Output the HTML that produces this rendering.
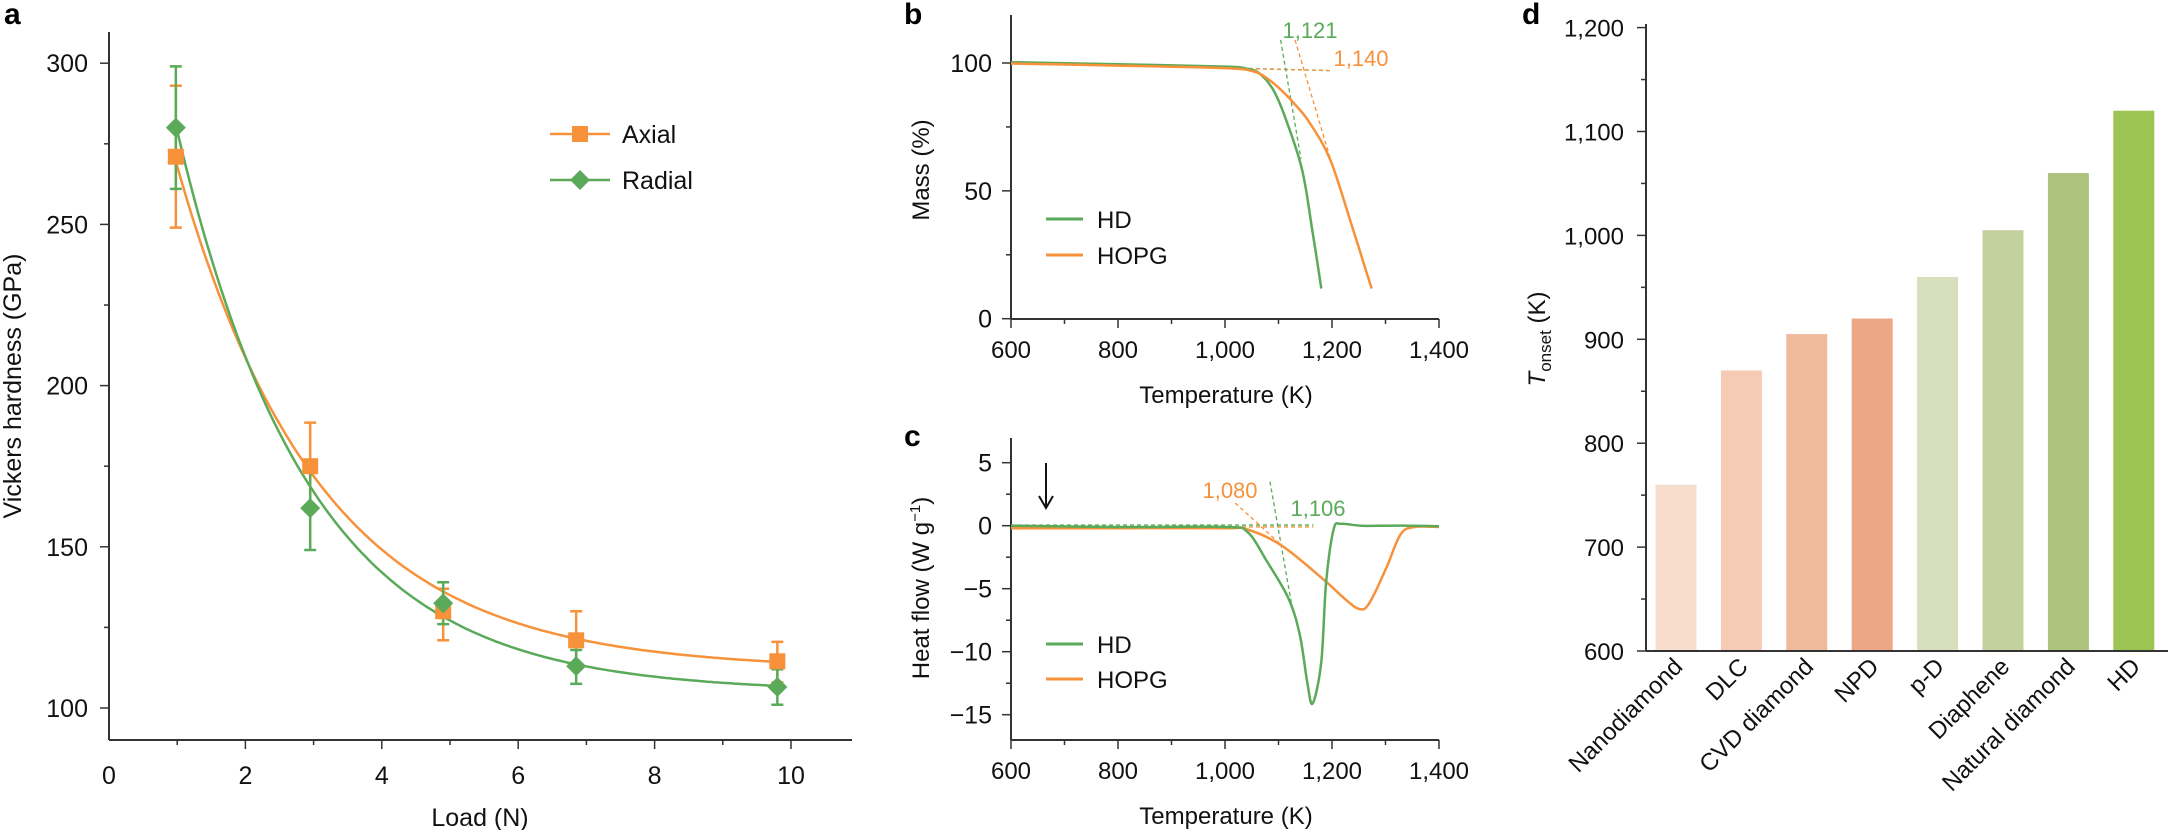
<!DOCTYPE html>
<html><head><meta charset="utf-8">
<style>
html,body{margin:0;padding:0;background:#fff;}
svg{display:block;font-family:"Liberation Sans",Arial,sans-serif;}
</style></head>
<body>
<svg id="fig" width="2168" height="830" viewBox="0 0 2168 830" xmlns="http://www.w3.org/2000/svg"></svg>
<script>
// ---------- Panel a data ----------
const loadX = [0.98, 2.95, 4.9, 6.85, 9.8];
const axialH = [271, 175, 130, 121, 114.5];
const axialErrHi = [293, 188.5, 137, 130, 120.5];
const axialErrLo = [249, 161, 121, 113, 108];
const radialH = [280, 162, 132.5, 113, 106.5];
const radialErrHi = [299, 175, 139, 118, 112];
const radialErrLo = [261, 149, 126, 107.5, 101];
const axialFit = [112, 156, 2.09];   // asymptote, amplitude at x=1, decay length
const radialFit = [105, 174, 1.94];
const aXTicks = [0, 2, 4, 6, 8, 10];
const aYTicks = [100, 150, 200, 250, 300];

// ---------- Panel b data ----------
const bHDT = [600, 800, 1000, 1042, 1065, 1090, 1112, 1144, 1164, 1180];
const bHDM = [100.3, 99.5, 98.6, 97.7, 95.8, 89.5, 79, 58.4, 33.5, 11.8];
const bHOPGT = [600, 800, 1000, 1053, 1080, 1105, 1130, 1157, 1196, 1235, 1274];
const bHOPGM = [99.8, 99.0, 98.0, 96.7, 93.8, 89.4, 84, 77, 62.5, 37.8, 11.8];
const bXTicks = [600, 800, 1000, 1200, 1400];
const bXLabels = ["600", "800", "1,000", "1,200", "1,400"];
const bYTicks = [0, 50, 100];

// ---------- Panel c data ----------
const cHDT = [600, 800, 1000, 1042, 1078, 1119, 1140, 1154, 1164, 1180, 1189, 1203, 1217, 1254, 1306, 1345, 1400];
const cHDQ = [0, -0.1, -0.1, -0.5, -2.8, -5.8, -8.7, -12.5, -14.1, -10.8, -4.5, -0.3, 0.15, 0, 0, 0, -0.05];
const cHOPGT = [600, 800, 1000, 1042, 1107, 1185, 1224, 1250, 1269, 1302, 1328, 1354, 1400];
const cHOPGQ = [-0.2, -0.2, -0.2, -0.3, -1.6, -4.3, -5.8, -6.6, -6.2, -3.3, -0.7, -0.1, -0.1];
const cYTicks = [-15, -10, -5, 0, 5];
const cYLabels = ["\u221215", "\u221210", "\u22125", "0", "5"];

// ---------- Panel d data ----------
const materials = ["Nanodiamond", "DLC", "CVD diamond", "NPD", "p-D", "Diaphene", "Natural diamond", "HD"];
const tOnset = [760, 870, 905, 920, 960, 1005, 1060, 1120];
const barColors = ["#f7ddcb", "#f5cbb5", "#efb99b", "#eca886", "#d6e0be", "#c3d19f", "#adc27d", "#9cc452"];
const dYTicks = [600, 700, 800, 900, 1000, 1100, 1200];
const dYLabels = ["600", "700", "800", "900", "1,000", "1,100", "1,200"];

const OR = "#f7923a", GR = "#5aaa5a", AX = "#333";
const svg = document.getElementById('fig');
const NS = "http://www.w3.org/2000/svg";
function el(tag, attrs, parent) {
  const e = document.createElementNS(NS, tag);
  for (const k in attrs) e.setAttribute(k, attrs[k]);
  (parent || svg).appendChild(e);
  return e;
}
function txt(s, x, y, size, anchor, fill, parent) {
  const t = el('text', {x: x, y: y, 'font-size': size, 'text-anchor': anchor || 'middle', fill: fill || '#111'}, parent);
  t.textContent = s;
  return t;
}
function pathFrom(xs, ys, sx, sy) {
  const P = xs.map((v, i) => [sx(v), sy(ys[i])]);
  let d = 'M' + P[0][0].toFixed(1) + ',' + P[0][1].toFixed(1);
  for (let i = 0; i < P.length - 1; i++) {
    const p0 = P[i - 1] || P[i], p1 = P[i], p2 = P[i + 1], p3 = P[i + 2] || p2;
    const c1 = [p1[0] + (p2[0] - p0[0]) / 6, p1[1] + (p2[1] - p0[1]) / 6];
    const c2 = [p2[0] - (p3[0] - p1[0]) / 6, p2[1] - (p3[1] - p1[1]) / 6];
    d += 'C' + c1[0].toFixed(1) + ',' + c1[1].toFixed(1) + ' ' + c2[0].toFixed(1) + ',' + c2[1].toFixed(1) + ' ' + p2[0].toFixed(1) + ',' + p2[1].toFixed(1);
  }
  return d;
}

// ================= Panel a =================
const ga = el('g', {});


const ax = v => 109 + v * 68.2;
const ay = v => 708 - (v - 100) * 3.224;
let t;
t = txt('a', 4, 24, 30, 'start', '#000', ga); t.setAttribute('font-weight', 'bold');
 
let ln;
ln = el('line', {x1: 109, y1: 32, x2: 109, y2: 740, stroke: AX, 'stroke-width': 2}, ga);
 
ln = el('line', {x1: 109, y1: 740, x2: 852, y2: 740, stroke: AX, 'stroke-width': 2}, ga);
 
for (let v = 1; v <= 10; v++) {
  el('line', {x1: ax(v), y1: 740, x2: ax(v), y2: v % 2 ? 745 : 749, stroke: AX, 'stroke-width': 1.5}, ga);
}
aXTicks.forEach(v => {
  const l = txt(String(v), ax(v), 784, 25, 'middle', '#111', ga);
   
});
for (let v = 100; v <= 300; v += 25) {
  el('line', {x1: v % 50 ? 104 : 100, y1: ay(v), x2: 109, y2: ay(v), stroke: AX, 'stroke-width': 1.5}, ga);
}
aYTicks.forEach(v => {
  const l = txt(String(v), 88, ay(v) + 9, 25, 'end', '#111', ga);
   
});
t = txt('Load (N)', 480, 826, 25, 'middle', '#111', ga);
 
t = txt('Vickers hardness (GPa)', 0, 0, 25, 'middle', '#111', ga);
t.setAttribute('transform', 'translate(21,386) rotate(-90)');
 

function fitPath(p) {
  let d = '';
  for (let x = 0.97; x <= 9.81; x += 0.05) {
    const y = p[0] + p[1] * Math.exp(-(x - 1) / p[2]);
    d += (d ? 'L' : 'M') + ax(x).toFixed(1) + ',' + ay(y).toFixed(1);
  }
  return d;
}
let p;
p = el('path', {d: fitPath(axialFit), fill: 'none', stroke: OR, 'stroke-width': 2.5}, ga);
 
p = el('path', {d: fitPath(radialFit), fill: 'none', stroke: GR, 'stroke-width': 2.5}, ga);
 

loadX.forEach((x, i) => {
  const cx = ax(x);
  const eb = el('path', {d: `M${cx},${ay(axialErrLo[i])}V${ay(axialErrHi[i])}M${cx-6},${ay(axialErrLo[i])}h12M${cx-6},${ay(axialErrHi[i])}h12`, stroke: OR, 'stroke-width': 2.5, fill: 'none'}, ga);
   
  const eb2 = el('path', {d: `M${cx},${ay(radialErrLo[i])}V${ay(radialErrHi[i])}M${cx-6},${ay(radialErrLo[i])}h12M${cx-6},${ay(radialErrHi[i])}h12`, stroke: GR, 'stroke-width': 2.5, fill: 'none'}, ga);
   
});
loadX.forEach((x, i) => {
  const cx = ax(x), cy = ay(axialH[i]);
  const m = el('rect', {x: cx - 8, y: cy - 8, width: 16, height: 16, fill: OR}, ga);
   
  const ry = ay(radialH[i]);
  const d = el('path', {d: `M${cx},${ry-10}L${cx+10},${ry}L${cx},${ry+10}L${cx-10},${ry}Z`, fill: GR}, ga);
   
});
// legend a
const lga = el('g', {}, ga);
 
el('line', {x1: 550, y1: 134, x2: 610, y2: 134, stroke: OR, 'stroke-width': 2.5}, lga);
el('rect', {x: 572, y: 126, width: 16, height: 16, fill: OR}, lga);
t = txt('Axial', 622, 143, 25, 'start', '#111', lga);
 
el('line', {x1: 550, y1: 180, x2: 610, y2: 180, stroke: GR, 'stroke-width': 2.5}, lga);
el('path', {d: 'M580,170L590,180L580,190L570,180Z', fill: GR}, lga);
t = txt('Radial', 622, 189, 25, 'start', '#111', lga);
 

// ================= Temperature axis helpers =================
const tx = v => 1011 + (v - 600) * 0.535;
function tempAxis(g, yAxis, yTop, labelY, titleY, prefix) {
  let l;
  l = el('line', {x1: 1011, y1: yTop, x2: 1011, y2: yAxis, stroke: AX, 'stroke-width': 2}, g);
   
  l = el('line', {x1: 1011, y1: yAxis, x2: 1439, y2: yAxis, stroke: AX, 'stroke-width': 2}, g);
   
  for (let v = 600; v <= 1400; v += 100) {
    el('line', {x1: tx(v), y1: yAxis, x2: tx(v), y2: yAxis + (v % 200 ? 5 : 9), stroke: AX, 'stroke-width': 1.5}, g);
  }
  bXTicks.forEach((v, i) => {
    const tl = txt(bXLabels[i], tx(v), labelY, 24, 'middle', '#111', g);
     
  });
  const tt = txt('Temperature (K)', 1226, titleY, 24, 'middle', '#111', g);
   
}

// ================= Panel b =================
const gb = el('g', {});


const by = v => 318.7 - v * 2.557;
t = txt('b', 904, 24, 30, 'start', '#000', gb); t.setAttribute('font-weight', 'bold');
 
tempAxis(gb, 319, 15, 358, 403, 'b');
for (let v = 0; v <= 100; v += 25) {
  el('line', {x1: v % 50 ? 1006 : 1002, y1: by(v), x2: 1011, y2: by(v), stroke: AX, 'stroke-width': 1.5}, gb);
}
bYTicks.forEach(v => {
  const l = txt(String(v), 992, by(v) + 9, 25, 'end', '#111', gb);
   
});
t = txt('Mass (%)', 0, 0, 24, 'middle', '#111', gb);
t.setAttribute('transform', 'translate(929,170) rotate(-90)');
 
// dashed tangents
el('line', {x1: tx(600), y1: by(100.5), x2: tx(1200), y2: by(97), stroke: GR, 'stroke-width': 1.3, 'stroke-dasharray': '4,3'}, gb);
el('line', {x1: tx(600), y1: by(100), x2: tx(1200), y2: by(97), stroke: OR, 'stroke-width': 1.3, 'stroke-dasharray': '4,3'}, gb);
el('line', {x1: tx(1104), y1: by(109), x2: tx(1142), y2: by(62.5), stroke: GR, 'stroke-width': 1.3, 'stroke-dasharray': '4,3'}, gb);
el('line', {x1: tx(1131), y1: by(109), x2: tx(1197), y2: by(62.5), stroke: OR, 'stroke-width': 1.3, 'stroke-dasharray': '4,3'}, gb);
p = el('path', {d: pathFrom(bHDT, bHDM, tx, by), fill: 'none', stroke: GR, 'stroke-width': 2.5, 'stroke-linejoin': 'round'}, gb);
 
p = el('path', {d: pathFrom(bHOPGT, bHOPGM, tx, by), fill: 'none', stroke: OR, 'stroke-width': 2.5, 'stroke-linejoin': 'round'}, gb);
 
t = txt('1,121', 1310, 38, 22, 'middle', GR, gb);
 
t = txt('1,140', 1361, 66, 22, 'middle', OR, gb);
 
el('line', {x1: 1046, y1: 219, x2: 1083, y2: 219, stroke: GR, 'stroke-width': 3}, gb);
t = txt('HD', 1097, 228, 24, 'start', '#111', gb);
 
el('line', {x1: 1046, y1: 255, x2: 1083, y2: 255, stroke: OR, 'stroke-width': 3}, gb);
t = txt('HOPG', 1097, 264, 24, 'start', '#111', gb);
 

// ================= Panel c =================
const gc = el('g', {});


const cy = v => 525.7 - v * 12.6;
t = txt('c', 904, 446, 30, 'start', '#000', gc); t.setAttribute('font-weight', 'bold');
 
tempAxis(gc, 740, 438, 779, 824, 'c');
for (let v = -15; v <= 5; v += 2.5) {
  el('line', {x1: v % 5 ? 1006 : 1002, y1: cy(v), x2: 1011, y2: cy(v), stroke: AX, 'stroke-width': 1.5}, gc);
}
cYTicks.forEach((v, i) => {
  const l = txt(cYLabels[i], 992, cy(v) + 9, 25, 'end', '#111', gc);
   
});
t = el('text', {'font-size': 24, 'text-anchor': 'middle', fill: '#111', transform: 'translate(929,588) rotate(-90)'}, gc);
t.innerHTML = 'Heat flow (W g<tspan dy="-9" font-size="15">\u22121</tspan><tspan dy="9">)</tspan>';
 
p = el('path', {d: 'M1046,463V506M1039,496L1046,508L1053,496', fill: 'none', stroke: '#111', 'stroke-width': 2}, gc);
 
el('line', {x1: tx(600), y1: cy(0.05), x2: tx(1165), y2: cy(0.05), stroke: GR, 'stroke-width': 1.3, 'stroke-dasharray': '4,3'}, gc);
el('line', {x1: tx(600), y1: cy(-0.1), x2: tx(1165), y2: cy(-0.1), stroke: OR, 'stroke-width': 1.3, 'stroke-dasharray': '4,3'}, gc);
el('line', {x1: tx(1019), y1: cy(1.8), x2: tx(1107), y2: cy(-1.6), stroke: OR, 'stroke-width': 1.3, 'stroke-dasharray': '4,3'}, gc);
el('line', {x1: tx(1084), y1: cy(3.5), x2: tx(1126), y2: cy(-6.6), stroke: GR, 'stroke-width': 1.3, 'stroke-dasharray': '4,3'}, gc);
p = el('path', {d: pathFrom(cHOPGT, cHOPGQ, tx, cy), fill: 'none', stroke: OR, 'stroke-width': 2.5, 'stroke-linejoin': 'round'}, gc);
 
p = el('path', {d: pathFrom(cHDT, cHDQ, tx, cy), fill: 'none', stroke: GR, 'stroke-width': 2.5, 'stroke-linejoin': 'round'}, gc);
 
t = txt('1,080', 1230, 498, 22, 'middle', OR, gc);
 
t = txt('1,106', 1318, 516, 22, 'middle', GR, gc);
 
el('line', {x1: 1046, y1: 644, x2: 1083, y2: 644, stroke: GR, 'stroke-width': 3}, gc);
t = txt('HD', 1097, 653, 24, 'start', '#111', gc);
 
el('line', {x1: 1046, y1: 679, x2: 1083, y2: 679, stroke: OR, 'stroke-width': 3}, gc);
t = txt('HOPG', 1097, 688, 24, 'start', '#111', gc);
 

// ================= Panel d =================
const gd = el('g', {});


const dy = v => 651 - (v - 600) * 1.039;
const dx = i => 1676 + i * 65.4;
t = txt('d', 1522, 24, 30, 'start', '#000', gd); t.setAttribute('font-weight', 'bold');
 
tOnset.forEach((v, i) => {
  const r = el('rect', {x: dx(i) - 20.5, y: dy(v), width: 41, height: dy(600) - dy(v), fill: barColors[i]}, gd);
  
  
  const l = txt(materials[i], 0, 0, 24, 'end', '#111', gd);
  l.setAttribute('transform', `translate(${dx(i) + 8},${668}) rotate(-45)`);
   
});
ln = el('line', {x1: 1646, y1: 24, x2: 1646, y2: 651, stroke: AX, 'stroke-width': 2}, gd);
 
ln = el('line', {x1: 1646, y1: 651, x2: 2168, y2: 651, stroke: AX, 'stroke-width': 2}, gd);
 
for (let v = 600; v <= 1200; v += 50) {
  el('line', {x1: v % 100 ? 1641 : 1637, y1: dy(v), x2: 1646, y2: dy(v), stroke: AX, 'stroke-width': 1.5}, gd);
}
dYTicks.forEach((v, i) => {
  const l = txt(dYLabels[i], 1624, dy(v) + 9, 24, 'end', '#111', gd);
   
});
t = el('text', {'font-size': 24, 'text-anchor': 'middle', fill: '#111', transform: 'translate(1545,339) rotate(-90)'}, gd);
t.innerHTML = '<tspan font-style="italic">T</tspan><tspan dy="6" font-size="17">onset</tspan><tspan dy="-6"> (K)</tspan>';
 
</script>
</body></html>
